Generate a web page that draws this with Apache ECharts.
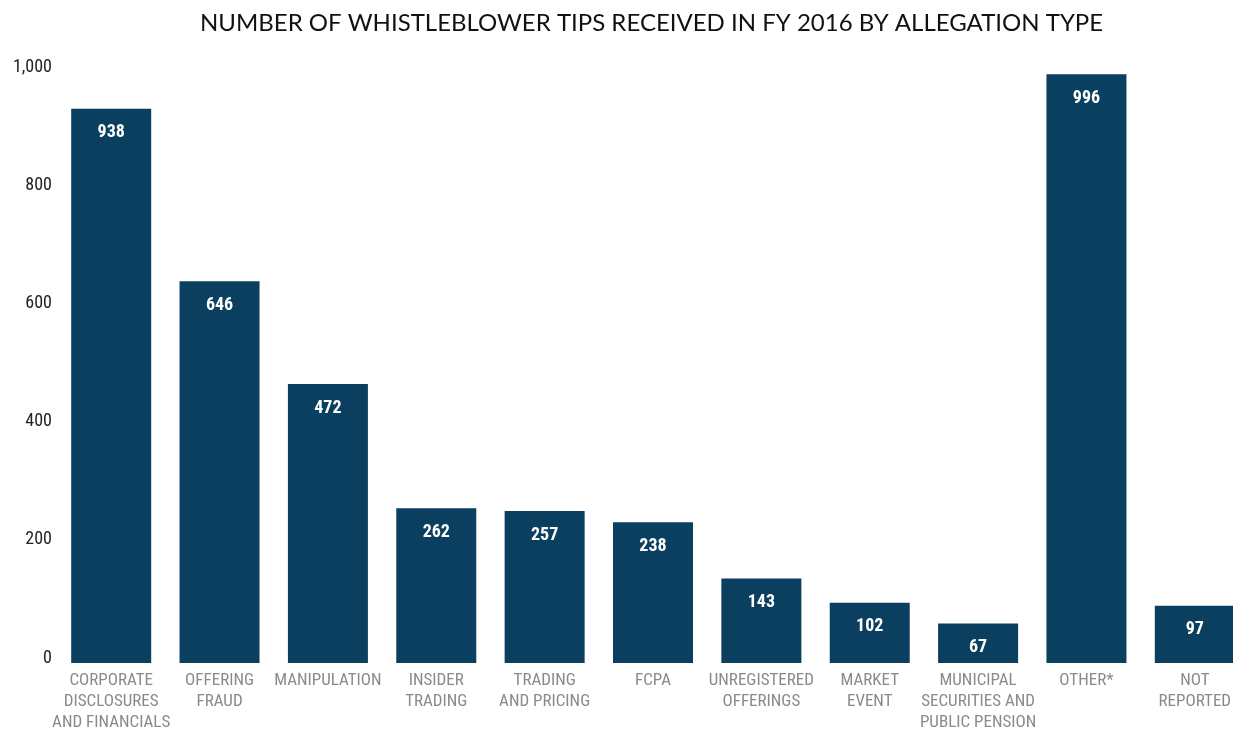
<!DOCTYPE html>
<html>
<head>
<meta charset="utf-8">
<style>
  html, body { margin: 0; padding: 0; background: #fff; overflow: hidden; }
  /* the last bar runs past the right edge of the frame, so the canvas is a bit wider than the window */
  #chart { width: 1249px; height: 733px; }
</style>
<script src="https://cdn.jsdelivr.net/npm/echarts@6/dist/echarts.min.js"></script>
</head>
<body>
<div id="chart"></div>
<script>
// allegation types, as printed under the bars
const categories = [
  'CORPORATE\nDISCLOSURES\nAND FINANCIALS',
  'OFFERING\nFRAUD',
  'MANIPULATION',
  'INSIDER\nTRADING',
  'TRADING\nAND PRICING',
  'FCPA',
  'UNREGISTERED\nOFFERINGS',
  'MARKET\nEVENT',
  'MUNICIPAL\nSECURITIES AND\nPUBLIC PENSION',
  'OTHER*',
  'NOT\nREPORTED'
]

// tips received, FY 2016
const tips = [938, 646, 472, 262, 257, 238, 143, 102, 67, 996, 97]

const yTicks = [0, 200, 400, 600, 800, 1000]

const BAR = '#0a3f5f'
const LABEL_GREY = '#8a8a8a'
const NARROW = '"Liberation Sans Narrow", "Roboto Condensed", "Arial Narrow", sans-serif'

const chart = echarts.init(document.getElementById('chart'), null, { renderer: 'canvas' })

chart.setOption({
  animation: false,
  title: {
    text: 'NUMBER OF WHISTLEBLOWER TIPS RECEIVED IN FY 2016 BY ALLEGATION TYPE',
    left: 195,
    top: 6,
    textStyle: {
      fontFamily: 'Lato, "Open Sans", sans-serif',
      fontWeight: 'normal',
      fontSize: 24,
      color: '#111'
    }
  },
  grid: {
    left: 57,
    right: 0,
    top: 72,
    height: 598
  },
  xAxis: {
    type: 'category',
    data: categories,
    axisLine: { show: false },
    axisTick: { show: false },
    axisLabel: {
      interval: 0,
      margin: 7,
      fontFamily: NARROW,
      fontSize: 17,
      lineHeight: 21,
      color: LABEL_GREY
    }
  },
  yAxis: {
    type: 'value',
    min: yTicks[0],
    max: yTicks[yTicks.length - 1],
    interval: 200,
    axisLine: { show: false },
    axisTick: { show: false },
    splitLine: { show: false },
    axisLabel: {
      margin: 5,
      fontFamily: NARROW,
      fontSize: 18,
      color: '#222',
      verticalAlign: 'bottom',
      lineHeight: 10,
      formatter: v => v.toLocaleString('en-US')
    }
  },
  series: [{
    type: 'bar',
    data: tips,
    barWidth: 80,
    itemStyle: { color: BAR },
    label: {
      show: true,
      position: 'insideTop',
      distance: 15,
      fontFamily: NARROW,
      fontWeight: 'bold',
      fontSize: 18,
      color: '#fff'
    }
  }]
})
</script>
</body>
</html>
